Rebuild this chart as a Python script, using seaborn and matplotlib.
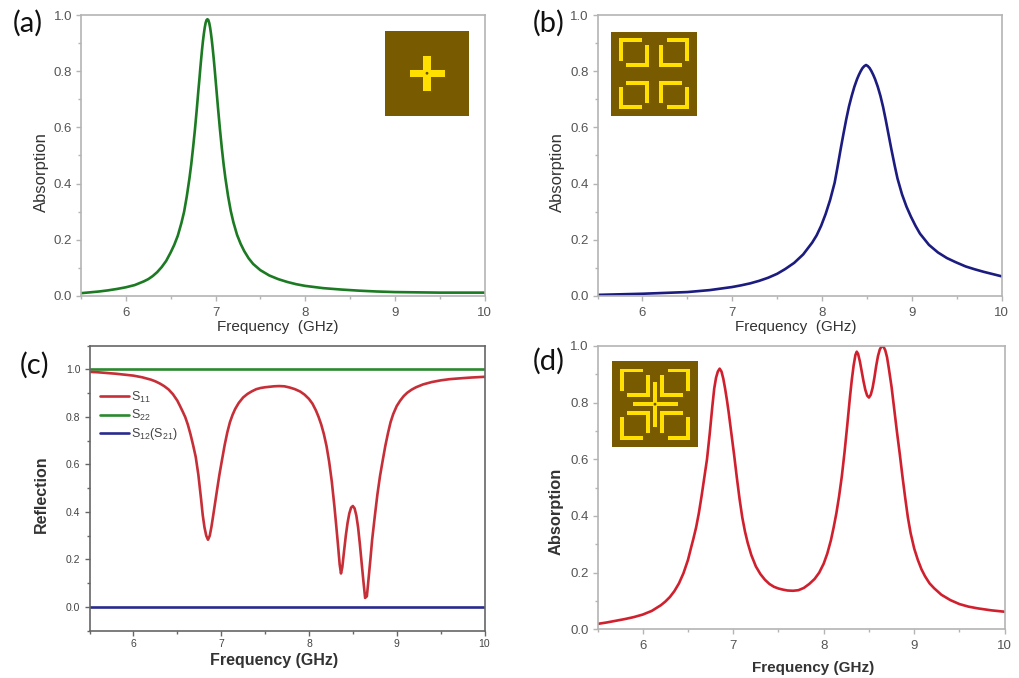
import matplotlib
matplotlib.use('Agg')
import matplotlib.pyplot as plt
from matplotlib.patches import Rectangle, Circle
from matplotlib.ticker import MultipleLocator
import seaborn as sns

# panel a
freq_a = [5.5, 5.6, 5.7, 5.8, 5.9, 6.0, 6.1, 6.2, 6.25, 6.3, 6.35, 6.4, 6.45, 6.5, 6.54, 6.58, 6.62, 6.65, 6.68, 6.71,
          6.73, 6.75, 6.77, 6.79, 6.81, 6.82, 6.83, 6.84, 6.85, 6.86, 6.87, 6.88, 6.89, 6.90, 6.91, 6.92, 6.93, 6.94,
          6.95, 6.96, 6.97, 6.98, 6.99, 7.00, 7.01, 7.03, 7.05, 7.07, 7.09, 7.11, 7.14, 7.17, 7.20, 7.24, 7.28, 7.32,
          7.37, 7.42, 7.5, 7.6, 7.7, 7.8, 7.9, 8.0, 8.2, 8.4, 8.6, 8.8, 9.0, 9.5, 10.0]
abs_a = [.010, .013, .016, .020, .025, .031, .039, .052, .060, .071, .085, .103, .125, .155, .182, .215, .260, .300, .355, .420,
         .470, .528, .590, .660, .735, .770, .808, .843, .877, .907, .933, .955, .972, .982, .985, .982, .972, .955,
         .933, .907, .877, .845, .810, .773, .736, .662, .592, .528, .470, .420, .356, .303, .262, .218, .186, .160,
         .134, .114, .092, .073, .060, .050, .042, .036, .028, .023, .019, .016, .014, .012, .012]

# panel b
freq_b = [5.5, 5.75, 6.0, 6.25, 6.5, 6.75, 7.0, 7.1, 7.2, 7.3, 7.4, 7.5, 7.59, 7.69, 7.79, 7.89, 7.94, 7.99, 8.04, 8.09,
          8.14, 8.17, 8.21, 8.24, 8.27, 8.30, 8.33, 8.36, 8.39, 8.41, 8.43, 8.45, 8.47, 8.49, 8.51, 8.53, 8.55, 8.57,
          8.59, 8.62, 8.65, 8.68, 8.71, 8.74, 8.77, 8.81, 8.84, 8.89, 8.94, 8.99, 9.04, 9.09, 9.19, 9.29, 9.39, 9.49,
          9.6, 9.7, 9.8, 9.9, 10.0]
abs_b = [.004, .006, .008, .011, .014, .021, .032, .038, .045, .054, .065, .079, .096, .118, .148, .190, .216, .250, .292, .342,
         .403, .455, .528, .580, .630, .675, .712, .745, .772, .787, .800, .811, .818, .822, .818, .811, .800, .787,
         .772, .745, .712, .672, .625, .575, .525, .462, .418, .362, .318, .282, .250, .222, .182, .155, .135, .120,
         .105, .095, .086, .078, .070]

# panel c
freq_c = [5.5, 5.6, 5.7, 5.8, 5.9, 6.0, 6.1, 6.2, 6.25, 6.3, 6.35, 6.4, 6.45, 6.5, 6.53, 6.56, 6.59, 6.62, 6.65, 6.68,
          6.71, 6.74, 6.77, 6.79, 6.81, 6.83, 6.85, 6.87, 6.89, 6.91, 6.93, 6.95, 6.98, 7.01, 7.04, 7.07, 7.1, 7.13,
          7.16, 7.2, 7.25, 7.3, 7.35, 7.4, 7.45, 7.5, 7.55, 7.6, 7.66, 7.72, 7.78, 7.84, 7.9, 7.95, 8.0, 8.04, 8.08,
          8.11, 8.14, 8.17, 8.2, 8.23, 8.26, 8.29, 8.31, 8.33, 8.35, 8.365, 8.38, 8.40, 8.42, 8.44, 8.46, 8.48, 8.50,
          8.52, 8.54, 8.56, 8.58, 8.60, 8.62, 8.64, 8.66, 8.68, 8.70, 8.72, 8.75, 8.78, 8.81, 8.84, 8.87, 8.9, 8.93,
          8.96, 9.0, 9.04, 9.08, 9.12, 9.17, 9.22, 9.3, 9.4, 9.5, 9.6, 9.7, 9.85, 10.0]
s11 = [.990, .988, .985, .982, .978, .974, .967, .957, .950, .941, .930, .916, .896, .869, .847, .824, .800, .768, .728, .682,
       .632, .557, .458, .387, .335, .300, .283, .300, .339, .387, .436, .485, .557, .620, .682, .735, .778, .809,
       .834, .859, .882, .897, .908, .917, .922, .925, .927, .929, .930, .929, .924, .917, .907, .894, .876, .856, .827,
       .800, .768, .728, .678, .612, .529, .424, .346, .265, .179, .141, .167, .235, .300, .354, .394, .418, .425,
       .415, .385, .335, .265, .187, .110, .038, .045, .122, .200, .283, .381, .474, .552, .616, .678, .731, .778,
       .812, .846, .869, .888, .902, .915, .925, .937, .947, .954, .959, .962, .966, .969]
freq_ends = [5.5, 10.0]
s22 = [1.0, 1.0]
s12 = [0.0, 0.0]

# panel d
freq_d = [5.5, 5.6, 5.7, 5.8, 5.9, 6.0, 6.1, 6.2, 6.25, 6.3, 6.35, 6.4, 6.45, 6.5, 6.53, 6.56, 6.59, 6.62, 6.65, 6.68,
          6.71, 6.74, 6.77, 6.79, 6.81, 6.83, 6.85, 6.87, 6.89, 6.91, 6.93, 6.95, 6.98, 7.01, 7.04, 7.07, 7.1, 7.13,
          7.16, 7.2, 7.25, 7.3, 7.35, 7.4, 7.45, 7.5, 7.55, 7.6, 7.66, 7.72, 7.78, 7.84, 7.9, 7.95, 8.0, 8.04, 8.08,
          8.11, 8.14, 8.17, 8.2, 8.23, 8.26, 8.29, 8.31, 8.33, 8.35, 8.365, 8.38, 8.40, 8.42, 8.44, 8.46, 8.48, 8.50,
          8.52, 8.54, 8.56, 8.58, 8.60, 8.62, 8.64, 8.66, 8.68, 8.70, 8.72, 8.75, 8.78, 8.81, 8.84, 8.87, 8.9, 8.93,
          8.96, 9.0, 9.04, 9.08, 9.12, 9.17, 9.22, 9.3, 9.4, 9.5, 9.6, 9.7, 9.85, 10.0]
abs_d = [.019, .024, .030, .036, .043, .052, .065, .085, .098, .114, .135, .162, .198, .245, .283, .320, .360, .410, .470, .535,
         .600, .690, .790, .850, .888, .910, .920, .910, .885, .850, .810, .765, .690, .615, .535, .460, .395, .345,
         .305, .262, .222, .195, .175, .160, .150, .144, .140, .137, .136, .138, .146, .160, .178, .200, .232, .268, .315,
         .360, .410, .470, .540, .625, .720, .820, .880, .930, .968, .980, .972, .945, .910, .875, .845, .825, .818,
         .828, .852, .888, .930, .965, .988, .999, .998, .985, .960, .920, .855, .775, .695, .620, .540, .465, .395,
         .340, .285, .245, .212, .187, .162, .145, .122, .103, .089, .080, .074, .067, .062]

xticks = [6, 7, 8, 9, 10]

W, H = 1019, 678
sns.set_style("white")
plt.rcParams['font.family'] = ['Liberation Sans', 'DejaVu Sans']
plt.rcParams['mathtext.default'] = 'regular'

fig = plt.figure(figsize=(W / 100, H / 100), dpi=100, facecolor='white')


def make_axes(left, right, top, bottom):
    return fig.add_axes([left / W, 1 - bottom / H, (right - left) / W, (bottom - top) / H])


def style_axes(ax, ylim, spine_col, tick_col, tick_size, xpad=3):
    ax.set_xlim(5.5, 10)
    ax.set_ylim(*ylim)
    ax.set_xticks(xticks)
    ax.set_yticks([0, .2, .4, .6, .8, 1.0])
    ax.xaxis.set_minor_locator(MultipleLocator(0.5))
    ax.yaxis.set_minor_locator(MultipleLocator(0.1))
    ax.tick_params(which='major', length=3.5, width=1, color=spine_col, labelsize=tick_size, labelcolor=tick_col,
                   direction='out', bottom=True, left=True, pad=3)
    ax.tick_params(axis='x', which='major', pad=xpad)
    ax.tick_params(which='minor', length=2, width=1, color=spine_col, direction='out', bottom=True, left=True)
    for s in ax.spines.values():
        s.set_color(spine_col)
        s.set_linewidth(1.2)


def labels(ax, xtext, ytext, xpos, ypos, weight, xsize, ysize):
    fig.text(xpos[0] / W, 1 - xpos[1] / H, xtext, ha='center', va='center', fontsize=xsize,
             fontweight=weight, color='#333333')
    fig.text(ypos[0] / W, 1 - ypos[1] / H, ytext, ha='center', va='center', rotation=90, fontsize=ysize,
             fontweight=weight, color='#333333')


def panel_tag(text, x, y):
    fig.text(x / W, 1 - y / H, text, ha='left', va='center', fontsize=21, family='Lato', color='#111111')


def inset(left, right, top, bottom, cross, rings):
    iax = make_axes(left, right, top, bottom)
    iax.set_xlim(-(right - left) / 2, (right - left) / 2)
    iax.set_ylim((bottom - top) / 2, -(bottom - top) / 2)
    iax.set_facecolor('#785a00')
    iax.set_xticks([])
    iax.set_yticks([])
    for s in iax.spines.values():
        s.set_visible(False)
    gold = '#ffe000'
    if rings:
        # each corner has one outer and one inner L, mirrored about the centre
        pieces = [(-35, -12.5, -35.5, -31.7), (-35, -31.2, -35.5, -13), (-8.8, -5, -29, -7), (-28, -5, -10.8, -7)]
        for sx in (1, -1):
            for sy in (1, -1):
                for x0, x1, y0, y1 in pieces:
                    xa, xb = sorted((sx * x0, sx * x1))
                    ya, yb = sorted((sy * y0, sy * y1))
                    iax.add_patch(Rectangle((xa, ya), xb - xa, yb - ya, color=gold, lw=0))
    if cross:
        half_len, half_w = cross
        iax.add_patch(Rectangle((-half_len, -half_w), 2 * half_len, 2 * half_w, color=gold, lw=0))
        iax.add_patch(Rectangle((-half_w, -half_len), 2 * half_w, 2 * half_len, color=gold, lw=0))
        iax.add_patch(Circle((0, 0), 1.4, color='#6b5200', lw=0))


# (a)
ax_a = make_axes(81, 484.5, 15, 296)
sns.lineplot(x=freq_a, y=abs_a, color='#1c7a22', linewidth=1.9, ax=ax_a, errorbar=None)
style_axes(ax_a, (0, 1), '#b4b4b4', '#555555', 9.5, xpad=4.5)
labels(ax_a, 'Frequency  (GHz)', 'Absorption', (278, 327), (41, 172), 'normal', 11, 12)
panel_tag('(a)', 13, 23)
inset(385, 469, 31, 115.5, (17.5, 3.7), False)

# (b)
ax_b = make_axes(597.5, 1001.7, 15, 296)
sns.lineplot(x=freq_b, y=abs_b, color='#1b1b80', linewidth=1.9, ax=ax_b, errorbar=None)
style_axes(ax_b, (0, 1), '#b4b4b4', '#555555', 9.5, xpad=4.5)
labels(ax_b, 'Frequency  (GHz)', 'Absorption', (796, 327), (557, 172), 'normal', 11, 12)
panel_tag('(b)', 533, 23)
inset(611.3, 696.7, 31.7, 115.7, None, True)

# (c)
ax_c = make_axes(89.5, 484.5, 345.7, 630.7)
sns.lineplot(x=freq_ends, y=s22, color='#2a8a2e', linewidth=1.9, ax=ax_c, errorbar=None)
sns.lineplot(x=freq_ends, y=s12, color='#2a2a90', linewidth=1.9, ax=ax_c, errorbar=None)
sns.lineplot(x=freq_c, y=s11, color='#c62f37', linewidth=1.9, ax=ax_c, errorbar=None)
style_axes(ax_c, (-0.1, 1.1), '#666666', '#444444', 7.5, xpad=2.5)
labels(ax_c, 'Frequency (GHz)', 'Reflection', (274, 661), (41, 494), 'bold', 11.5, 11.5)
panel_tag('(c)', 20, 365)
line_red, line_green, line_blue = ax_c.lines[2], ax_c.lines[0], ax_c.lines[1]
ax_c.legend([line_red, line_green, line_blue], ['S$_{11}$', 'S$_{22}$', 'S$_{12}$(S$_{21}$)'],
            loc='upper left', bbox_to_anchor=(0.005, 0.876), frameon=False, fontsize=9, labelcolor='#444444',
            handlelength=2.3, handletextpad=0.2, labelspacing=0.25, borderpad=0.2)

# (d)
ax_d = make_axes(597.5, 1004.7, 346, 629.3)
sns.lineplot(x=freq_d, y=abs_d, color='#d0202e', linewidth=1.9, ax=ax_d, errorbar=None)
style_axes(ax_d, (0, 1), '#b4b4b4', '#555555', 9.5, xpad=4.5)
labels(ax_d, 'Frequency (GHz)', 'Absorption', (813, 668), (556, 511), 'bold', 11, 11.8)
panel_tag('(d)', 533, 361)
inset(612.3, 697.7, 361.3, 447, (22.5, 2.2), True)

fig.savefig('out.png', dpi=100, facecolor='white')
